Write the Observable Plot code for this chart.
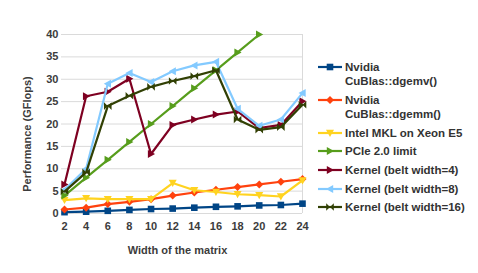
<!DOCTYPE html>
<html>
<head>
<meta charset="utf-8">
<script src="https://cdn.jsdelivr.net/npm/d3@7"></script>
<script src="https://cdn.jsdelivr.net/npm/@observablehq/plot@0.6"></script>
<style>
  html, body { margin: 0; padding: 0; background: #fff; }
  #wrap { position: relative; width: 478px; height: 273px; font-family: "Liberation Sans", Arial, sans-serif; }
  #legend { position: absolute; left: 317px; top: 0; }
  .item { position: absolute; left: 0; white-space: nowrap; font: bold 11.5px "Liberation Sans", Arial, sans-serif; color: #333; line-height: 14px; }
  .item svg { position: absolute; left: 0; top: 0; }
  .item span { position: absolute; left: 28px; top: 0; }
</style>
</head>
<body>
<div id="wrap"><div id="legend"></div></div>
<script>
// ---- data ----
const widths = [2, 4, 6, 8, 10, 12, 14, 16, 18, 20, 22, 24];
const pcieWidths = [2, 4, 6, 8, 10, 12, 14, 16, 18, 20];
const dgemv = [0.3, 0.4, 0.6, 0.8, 1.0, 1.1, 1.3, 1.5, 1.6, 1.8, 1.9, 2.2];
const dgemm = [0.9, 1.3, 2.1, 2.6, 3.2, 4.0, 4.7, 5.3, 5.9, 6.5, 7.1, 7.7];
const mkl = [3.0, 3.4, 3.2, 3.2, 3.2, 6.8, 5.2, 4.8, 4.3, 4.1, 3.8, 7.4];
const pcie = [4, 8, 12, 16, 20, 24, 28, 32, 36, 40];
const kernel4 = [6.5, 26.2, 27.2, 30.1, 13.3, 19.8, 21.0, 22.1, 22.8, 19.1, 19.8, 25.1];
const kernel8 = [5.3, 10.0, 29.0, 31.4, 29.4, 31.8, 33.1, 33.9, 23.4, 19.6, 21.0, 26.9];
const kernel16 = [4.9, 9.2, 24.0, 26.3, 28.3, 29.6, 30.7, 32.0, 21.0, 18.7, 19.3, 24.3];
const yTicks = [0, 5, 10, 15, 20, 25, 30, 35, 40];
const xTicks = widths;
const seriesNames = [
  ["Nvidia", "CuBlas::dgemv()"],
  ["Nvidia", "CuBlas::dgemm()"],
  ["Intel MKL on Xeon E5"],
  ["PCIe 2.0 limit"],
  ["Kernel (belt width=4)"],
  ["Kernel (belt width=8)"],
  ["Kernel (belt width=16)"]
];
const colors = ["#004586", "#ff420e", "#ffd320", "#579d1c", "#7e0021", "#83caff", "#314004"];

// ---- symbols ----
function poly(polys, k) {
  return { draw(ctx) {
    for (const p of polys) {
      p.forEach(([a, b], i) => i ? ctx.lineTo(a * k, b * k) : ctx.moveTo(a * k, b * k));
      ctx.closePath();
    }
  }};
}
const symSquare = poly([[[-1,-1],[1,-1],[1,1],[-1,1]]], 3.3);
const symDiamond = poly([[[0,-1],[1,0],[0,1],[-1,0]]], 4);
const symDown = poly([[[-1,-0.8],[1,-0.8],[0,1]]], 4);
const symRight = poly([[[-0.8,-1],[1,0],[-0.8,1]]], 4);
const symLeft = poly([[[0.8,-1],[-1,0],[0.8,1]]], 4);
const symBowtie = poly([[[-1,-1],[0,0],[-1,1]], [[1,-1],[0,0],[1,1]]], 3.8);
const symbols = [symSquare, symDiamond, symDown, symRight, symRight, symLeft, symBowtie];

const seriesX = [widths, widths, widths, pcieWidths, widths, widths, widths];
const seriesY = [dgemv, dgemm, mkl, pcie, kernel4, kernel8, kernel16];

const marks = [
  Plot.ruleY(yTicks, { stroke: "#dadada", strokeWidth: 1, insetLeft: -3 }),
  Plot.ruleX([24], { stroke: "#dadada", strokeWidth: 1 })
];
seriesY.forEach((vals, s) => {
  const data = seriesX[s].map((w, i) => ({ w, v: vals[i] }));
  marks.push(Plot.line(data, { x: "w", y: "v", stroke: colors[s], strokeWidth: 2.2 }));
  marks.push(Plot.dot(data, { x: "w", y: "v", fill: colors[s], stroke: "none", symbol: symbols[s], r: 3 }));
});
marks.push(
  Plot.axisX({ ticks: xTicks, tickSize: 0, tickPadding: 9, fontSize: 11, fontWeight: "bold", fill: "#3c3c3c", label: null }),
  Plot.axisY({ ticks: yTicks, tickSize: 0, tickPadding: 6, fontSize: 11, fontWeight: "bold", fill: "#3c3c3c", label: null }),
  Plot.text(["Performance (GFlops)"], { frameAnchor: "left", dx: -37, dy: 10, rotate: -90, textAnchor: "middle", lineAnchor: "middle", fontSize: 11, fontWeight: "bold", fill: "#3c3c3c" }),
  Plot.text(["Width of the matrix"], { frameAnchor: "bottom", dx: -6, dy: 37, textAnchor: "middle", lineAnchor: "middle", fontSize: 11, fontWeight: "bold", fill: "#3c3c3c" })
);

const chart = Plot.plot({
  width: 478, height: 273,
  marginLeft: 64, marginRight: 176, marginTop: 34, marginBottom: 60,
  x: { domain: [2, 24] },
  y: { domain: [0, 40] },
  style: { fontFamily: "Liberation Sans, Arial, sans-serif", background: "#fff", overflow: "visible" },
  marks
});
document.getElementById("wrap").prepend(chart);

// ---- legend ----
const legendCenters = [66.5, 99.5, 132.5, 150.5, 169.5, 188.5, 207];
const legend = document.getElementById("legend");
seriesNames.forEach((lines, s) => {
  const div = document.createElement("div");
  div.className = "item";
  div.style.top = (legendCenters[s] - 7) + "px";
  const svg = d3.create("svg").attr("width", 26).attr("height", 14);
  svg.append("line").attr("x1", 1).attr("x2", 25).attr("y1", 7).attr("y2", 7)
    .attr("stroke", colors[s]).attr("stroke-width", 2.2);
  svg.append("path").attr("transform", "translate(13,7)")
    .attr("d", d3.symbol().type(symbols[s])()).attr("fill", colors[s]);
  div.appendChild(svg.node());
  const span = document.createElement("span");
  span.innerHTML = lines.join("<br>");
  div.appendChild(span);
  legend.appendChild(div);
});
</script>
</body>
</html>
